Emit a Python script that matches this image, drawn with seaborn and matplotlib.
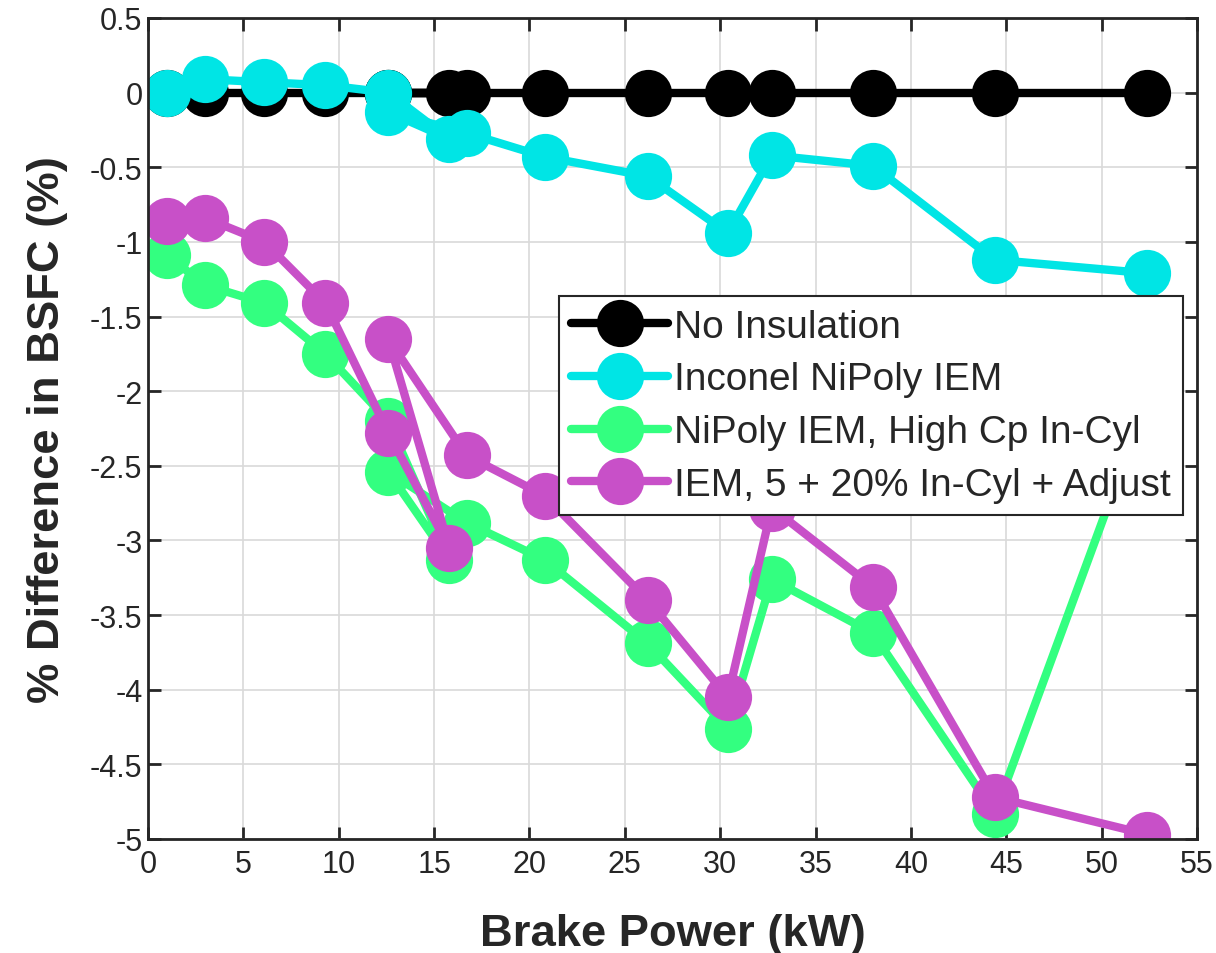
import matplotlib

matplotlib.use("Agg")
import matplotlib.pyplot as plt
import numpy as np
import pandas as pd
import seaborn as sns
from matplotlib.ticker import FuncFormatter, MultipleLocator

# brake power points, in the order the runs were recorded (12.6 kW appears twice)
POWER_KW = [1.0, 3.0, 6.1, 9.3, 12.6, 15.8, 12.6, 16.7, 20.8, 26.2, 30.4, 32.7, 38.0, 44.4, 52.4]

NO_INSULATION = [0, 0, 0, 0, 0, 0, 0, 0, 0, 0, 0, 0, 0, 0, 0]
INCONEL_NIPOLY = [0.0, 0.09, 0.07, 0.05, 0.0, -0.31, -0.13, -0.27, -0.43, -0.56, -0.94, -0.42, -0.49, -1.12, -1.21]
NIPOLY_HIGH_CP = [-1.09, -1.29, -1.41, -1.75, -2.2, -3.13, -2.54, -2.88, -3.13, -3.69, -4.26, -3.26, -3.62, -4.83, -2.05]
IEM_ADJUST = [-0.86, -0.84, -1.0, -1.41, -2.28, -3.05, -1.65, -2.43, -2.70, -3.40, -4.05, -2.78, -3.31, -4.72, -4.97]

SERIES_LABELS = [
    "No Insulation",
    "Inconel NiPoly IEM",
    "NiPoly IEM, High Cp In-Cyl",
    "IEM, 5 + 20% In-Cyl + Adjust",
]
SERIES_COLORS = ["#000000", "#00E5E5", "#33FF80", "#C850C8"]

TICK_SIZE = 22
LABEL_SIZE = 32.7
LEGEND_SIZE = 28
AXIS_GRAY = "#262626"

sns.set_theme(style="whitegrid")
plt.rcParams["font.family"] = ["Liberation Sans", "DejaVu Sans"]
plt.rcParams["axes.unicode_minus"] = False

frames = []
for label, values in zip(SERIES_LABELS, [NO_INSULATION, INCONEL_NIPOLY, NIPOLY_HIGH_CP, IEM_ADJUST]):
    frames.append(pd.DataFrame({"power": POWER_KW, "bsfc": values, "case": label}))
data = pd.concat(frames, ignore_index=True)

fig = plt.figure(figsize=(12.16, 9.54), dpi=100)
ax = fig.add_axes([148 / 1216, 1 - 840 / 954, 1049 / 1216, 821 / 954])
ax.set_facecolor("white")

for label, color in zip(SERIES_LABELS, SERIES_COLORS):
    sub = data[data["case"] == label]
    sns.lineplot(
        data=sub,
        x="power",
        y="bsfc",
        sort=False,
        estimator=None,
        color=color,
        linewidth=6,
        marker="o",
        markersize=34,
        markeredgewidth=0,
        label=label,
        ax=ax,
    )

ax.set_xlim(0, 55)
ax.set_ylim(-5, 0.5)
ax.xaxis.set_major_locator(MultipleLocator(5))
ax.yaxis.set_major_locator(MultipleLocator(0.5))
ax.yaxis.set_major_formatter(FuncFormatter(lambda v, _: f"{v:g}"))

ax.grid(True, color="#d9d9d9", linewidth=1.2)
for spine in ax.spines.values():
    spine.set_visible(True)
    spine.set_color(AXIS_GRAY)
    spine.set_linewidth(2)

ax.tick_params(
    axis="both",
    direction="in",
    length=9,
    width=2,
    color=AXIS_GRAY,
    labelsize=TICK_SIZE,
    labelcolor=AXIS_GRAY,
    top=True,
    right=True,
    bottom=True,
    left=True,
)
ax.tick_params(axis="x", pad=7)
ax.tick_params(axis="y", pad=4)

ax.set_xlabel("Brake Power (kW)", fontsize=LABEL_SIZE, fontweight="bold", color=AXIS_GRAY, labelpad=25)
ax.set_ylabel("% Difference in BSFC (%)", fontsize=LABEL_SIZE, fontweight="bold", color=AXIS_GRAY, labelpad=16)

leg = ax.legend(
    loc="upper right",
    bbox_to_anchor=(0.987, 0.661),
    fontsize=LEGEND_SIZE,
    frameon=True,
    fancybox=False,
    framealpha=1,
    edgecolor=AXIS_GRAY,
    handlelength=2.5,
    handletextpad=0.15,
    labelspacing=0.43,
    borderpad=0.32,
    borderaxespad=0,
)
leg.get_frame().set_linewidth(1.5)

fig.savefig("out.png", dpi=100)
plt.close(fig)
